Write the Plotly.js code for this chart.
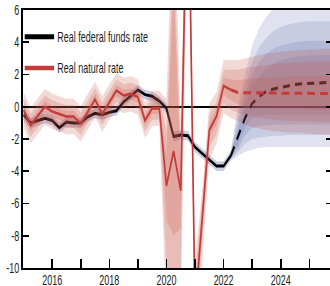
<!DOCTYPE html>
<html>
<head>
<meta charset="utf-8">
<script src="https://cdn.plot.ly/plotly-3.0.1.min.js"></script>
<style>
html,body{margin:0;padding:0;overflow:hidden;background:#fff;}
#wrap{width:521px;height:286px;transform:scaleX(0.64);transform-origin:0 0;}
</style>
</head>
<body>
<div id="wrap"><div id="chart"></div></div>
<script>
// ---- data (quarterly) ----
const quartersHist = [2015.00,2015.25,2015.50,2015.75,2016.00,2016.25,2016.50,2016.75,2017.00,2017.25,2017.50,2017.75,2018.00,2018.25,2018.50,2018.75,2019.00,2019.25,2019.50,2019.75,2020.00,2020.25,2020.50,2020.75,2021.00,2021.25,2021.50,2021.75,2022.00,2022.25];
const quartersFcst = [2022.25,2022.50,2022.75,2023.00,2023.25,2023.50,2023.75,2024.00,2024.25,2024.50,2024.75,2025.00,2025.25,2025.50,2025.75,2026.00];

// real federal funds rate
const fedHist = [-0.5,-1.0,-0.85,-0.72,-0.85,-1.3,-0.95,-1.0,-1.0,-0.62,-0.4,-0.5,-0.35,-0.25,0.3,0.7,1.05,0.75,0.65,0.35,-0.1,-1.85,-1.75,-1.8,-2.5,-2.9,-3.3,-3.68,-3.68,-3.05];
const fedFcst = [-3.05,-1.9,-0.7,0.2,0.65,0.95,1.1,1.2,1.3,1.38,1.43,1.46,1.48,1.5,1.51,1.52];
// real natural rate
const natHist = [-0.2,-1.15,-0.55,0.0,-0.3,-0.45,-0.6,-0.6,-1.05,-0.3,0.45,-0.45,0.3,1.0,0.7,0.8,0.6,-0.85,-0.1,-0.1,-4.9,-2.75,-5.2,16.8,-12.5,-7.1,-1.45,-0.6,1.3,1.05];
const natFcst = [1.05,0.88,0.87,0.86,0.86,0.85,0.85,0.84,0.84,0.83,0.83,0.83,0.82,0.82,0.82,0.82];

// natural rate uncertainty bands (outer, middle, inner), history
const natUp1 = [0.9,-0.05,0.55,1.1,0.8,0.65,0.5,0.5,0.05,0.8,1.55,0.65,1.4,2.1,1.8,1.9,1.7,0.25,1.0,1.0,0.5,14,-1,19,-9.5,-5.2,0.2,0.9,2.9,2.9];
const natLo1 = [-1.3,-2.25,-1.65,-1.1,-1.4,-1.55,-1.7,-1.7,-2.15,-1.4,-0.65,-1.55,-0.8,-0.1,-0.4,-0.3,-0.5,-1.95,-1.2,-1.2,-13,-13,-13,13.5,-16,-9.5,-3.3,-2.3,-0.4,-0.7];
const natUp2 = [0.5,-0.45,0.15,0.7,0.4,0.25,0.1,0.1,-0.35,0.4,1.15,0.25,1.0,1.7,1.4,1.5,1.3,-0.15,0.6,0.6,-1.5,10,-2.5,18,-10.5,-5.8,-0.5,0.3,2.3,2.3];
const natLo2 = [-0.9,-1.85,-1.25,-0.7,-1.0,-1.15,-1.3,-1.3,-1.75,-1.0,-0.25,-1.15,-0.4,0.3,0.0,0.1,-0.1,-1.55,-0.8,-0.8,-10,-10.5,-10.5,14.5,-14.5,-8.6,-2.5,-1.7,0.2,-0.2];
const natUp3 = [0.15,-0.8,-0.2,0.35,0.05,-0.1,-0.25,-0.25,-0.7,0.05,0.8,-0.1,0.65,1.35,1.05,1.15,0.95,-0.5,0.25,0.25,-3,7.5,-4,17.5,-11.5,-6.4,-1.0,-0.15,1.8,1.7];
const natLo3 = [-0.55,-1.5,-0.9,-0.35,-0.65,-0.8,-0.95,-0.95,-1.4,-0.65,0.1,-0.8,-0.05,0.65,0.35,0.45,0.25,-1.2,-0.45,-0.45,-7,-8,-7.5,15.5,-13.5,-7.8,-1.9,-1.1,0.75,0.4];
// natural rate bands, projection
const natUp1F = [2.9,2.9,3.0,3.1,3.2,3.3,3.35,3.4,3.45,3.5,3.5,3.55,3.55,3.6,3.6,3.6];
const natLo1F = [-0.7,-0.9,-1.1,-1.25,-1.35,-1.45,-1.5,-1.55,-1.6,-1.6,-1.65,-1.65,-1.7,-1.7,-1.7,-1.7];
const natUp2F = [2.3,2.3,2.4,2.5,2.55,2.6,2.65,2.7,2.7,2.75,2.75,2.8,2.8,2.8,2.8,2.8];
const natLo2F = [-0.2,-0.35,-0.5,-0.6,-0.7,-0.75,-0.8,-0.85,-0.85,-0.9,-0.9,-0.9,-0.95,-0.95,-0.95,-0.95];
const natUp3F = [1.7,1.65,1.7,1.75,1.8,1.8,1.85,1.85,1.85,1.9,1.9,1.9,1.9,1.9,1.9,1.9];
const natLo3F = [0.4,0.15,0.05,0.0,-0.05,-0.1,-0.1,-0.15,-0.15,-0.15,-0.15,-0.2,-0.2,-0.2,-0.2,-0.2];

// federal funds rate bands: history glow and projection fan (outer to inner)
const fedUpH = [-0.2,-0.7,-0.55,-0.42,-0.55,-1.0,-0.65,-0.7,-0.7,-0.32,-0.1,-0.2,-0.05,0.05,0.6,1.0,1.35,1.05,0.95,0.65,0.2,-1.55,-1.45,-1.5,-2.2,-2.6,-3.0,-3.38,-3.38,-2.75];
const fedLoH = [-0.8,-1.3,-1.15,-1.02,-1.15,-1.6,-1.25,-1.3,-1.3,-0.92,-0.7,-0.8,-0.65,-0.55,0.0,0.4,0.75,0.45,0.35,0.05,-0.4,-2.15,-2.05,-2.1,-2.8,-3.2,-3.6,-3.98,-3.98,-3.35];
const fedUp1F = [-2.75,0.0,2.0,3.8,4.9,5.6,6.1,6.5,6.8,7.0,7.2,7.3,7.4,7.5,7.5,7.5];
const fedLo1F = [-3.35,-3.05,-2.8,-2.65,-2.55,-2.5,-2.5,-2.5,-2.5,-2.5,-2.5,-2.5,-2.5,-2.5,-2.5,-2.5];
const fedUp2F = [-2.8,-0.6,1.2,2.8,3.7,4.3,4.7,4.95,5.1,5.2,5.25,5.3,5.3,5.3,5.3,5.3];
const fedLo2F = [-3.3,-2.8,-2.3,-2.0,-1.9,-1.85,-1.8,-1.8,-1.75,-1.75,-1.75,-1.75,-1.75,-1.75,-1.75,-1.75];
const fedUp3F = [-2.85,-1.0,0.6,2.0,2.8,3.3,3.6,3.8,3.9,4.0,4.05,4.1,4.1,4.1,4.1,4.1];
const fedLo3F = [-3.25,-2.6,-1.8,-1.3,-1.2,-1.15,-1.1,-1.1,-1.1,-1.1,-1.1,-1.1,-1.1,-1.1,-1.1,-1.1];
const fedUp4F = [-2.9,-1.4,0.0,1.3,1.9,2.4,2.7,2.9,3.0,3.1,3.15,3.2,3.2,3.2,3.2,3.2];
const fedLo4F = [-3.2,-2.35,-1.3,-0.7,-0.55,-0.5,-0.5,-0.5,-0.5,-0.5,-0.5,-0.5,-0.5,-0.5,-0.5,-0.5];

const yTickVals = [-10,-8,-6,-4,-2,0,2,4,6];
const yTickText = ['-10','-8','-6','-4','-2','0','2','4','6'];
const xTickVals = [2016,2018,2020,2022,2024];
const xTickText = ['2016','2018','2020','2022','2024'];
const seriesNames = ['Real federal funds rate','Real natural rate'];

// ---- styling ----
const RED = 'rgb(196,60,58)';
const REDFILL = 'rgba(196,78,66,0.21)';
const BLUEFILL = 'rgba(88,104,170,0.19)';

function band(x, up, lo, color){
  return {x: x.concat(x.slice().reverse()), y: up.concat(lo.slice().reverse()),
    type:'scatter', mode:'lines', fill:'toself', fillcolor:color,
    line:{width:0}, hoverinfo:'skip', showlegend:false};
}
const xAll = quartersHist.concat(quartersFcst.slice(1));
const join = (a,b) => a.concat(b.slice(1));

const traces = [];
// blue (fed funds) bands
traces.push(band(quartersHist, fedUpH, fedLoH, 'rgba(88,104,170,0.32)'));
traces.push(band(quartersFcst, fedUp1F, fedLo1F, BLUEFILL));
traces.push(band(quartersFcst, fedUp2F, fedLo2F, BLUEFILL));
traces.push(band(quartersFcst, fedUp3F, fedLo3F, BLUEFILL));
traces.push(band(quartersFcst, fedUp4F, fedLo4F, BLUEFILL));
// fed funds line
traces.push({x:quartersHist, y:fedHist, type:'scatter', mode:'lines', line:{color:'#000', width:3}, showlegend:false, hoverinfo:'skip'});
traces.push({x:quartersFcst, y:fedFcst, type:'scatter', mode:'lines', line:{color:'#000', width:3, dash:'11px,8px'}, showlegend:false, hoverinfo:'skip'});
// red (natural rate) bands
traces.push(band(xAll, join(natUp1,natUp1F), join(natLo1,natLo1F), REDFILL));
traces.push(band(xAll, join(natUp2,natUp2F), join(natLo2,natLo2F), REDFILL));
traces.push(band(xAll, join(natUp3,natUp3F), join(natLo3,natLo3F), REDFILL));
// natural rate line
traces.push({x:quartersHist, y:natHist, type:'scatter', mode:'lines', line:{color:RED, width:2.6}, showlegend:false, hoverinfo:'skip'});
traces.push({x:quartersFcst, y:natFcst, type:'scatter', mode:'lines', line:{color:RED, width:3, dash:'12px,8px'}, showlegend:false, hoverinfo:'skip'});
// legend entries
traces.push({x:[null], y:[null], type:'scatter', mode:'lines', line:{color:'#000', width:5}, name:seriesNames[0], legendgroup:'a'});
traces.push({x:[null], y:[null], type:'scatter', mode:'lines', line:{color:RED, width:4.5}, name:seriesNames[1], legendgroup:'b'});

const FONT = 'Liberation Sans, Arial, sans-serif';
const layout = {
  width:521, height:286,
  margin:{l:36, r:2, t:10, b:18},
  paper_bgcolor:'#fff', plot_bgcolor:'#fff',
  font:{family:FONT, size:14, color:'#1a1a1a'},
  showlegend:true,
  legend:{x:-0.005, y:0.957, xanchor:'left', yanchor:'top', bgcolor:'rgba(0,0,0,0)',
    font:{family:FONT, size:14, color:'#1a1a1a'}, tracegroupgap:10, itemwidth:46, traceorder:'grouped'},
  xaxis:{range:[2014.98, 2025.8], showgrid:false, zeroline:false,
    tickmode:'array', tickvals:xTickVals, ticktext:xTickText,
    ticks:'inside', ticklen:9, tickwidth:2.4, tickcolor:'#000', ticklabelstandoff:-2,
    minor:{tickmode:'linear', tick0:2015, dtick:1, ticks:'inside', ticklen:9, tickwidth:2.4, tickcolor:'#000', showgrid:false},
    showline:true, linecolor:'#000', linewidth:2, mirror:true,
    tickfont:{family:FONT, size:14, color:'#1a1a1a'}},
  yaxis:{range:[-10,6], showgrid:false,
    zeroline:true, zerolinecolor:'#000', zerolinewidth:1.6,
    tickmode:'array', tickvals:yTickVals, ticktext:yTickText,
    ticks:'inside', ticklen:10, tickwidth:1.6, tickcolor:'#000',
    showline:true, linecolor:'#000', linewidth:3, mirror:'ticks',
    tickfont:{family:FONT, size:14, color:'#1a1a1a'}}
};
Plotly.newPlot('chart', traces, layout, {staticPlot:true, displayModeBar:false});
</script>
</body>
</html>
